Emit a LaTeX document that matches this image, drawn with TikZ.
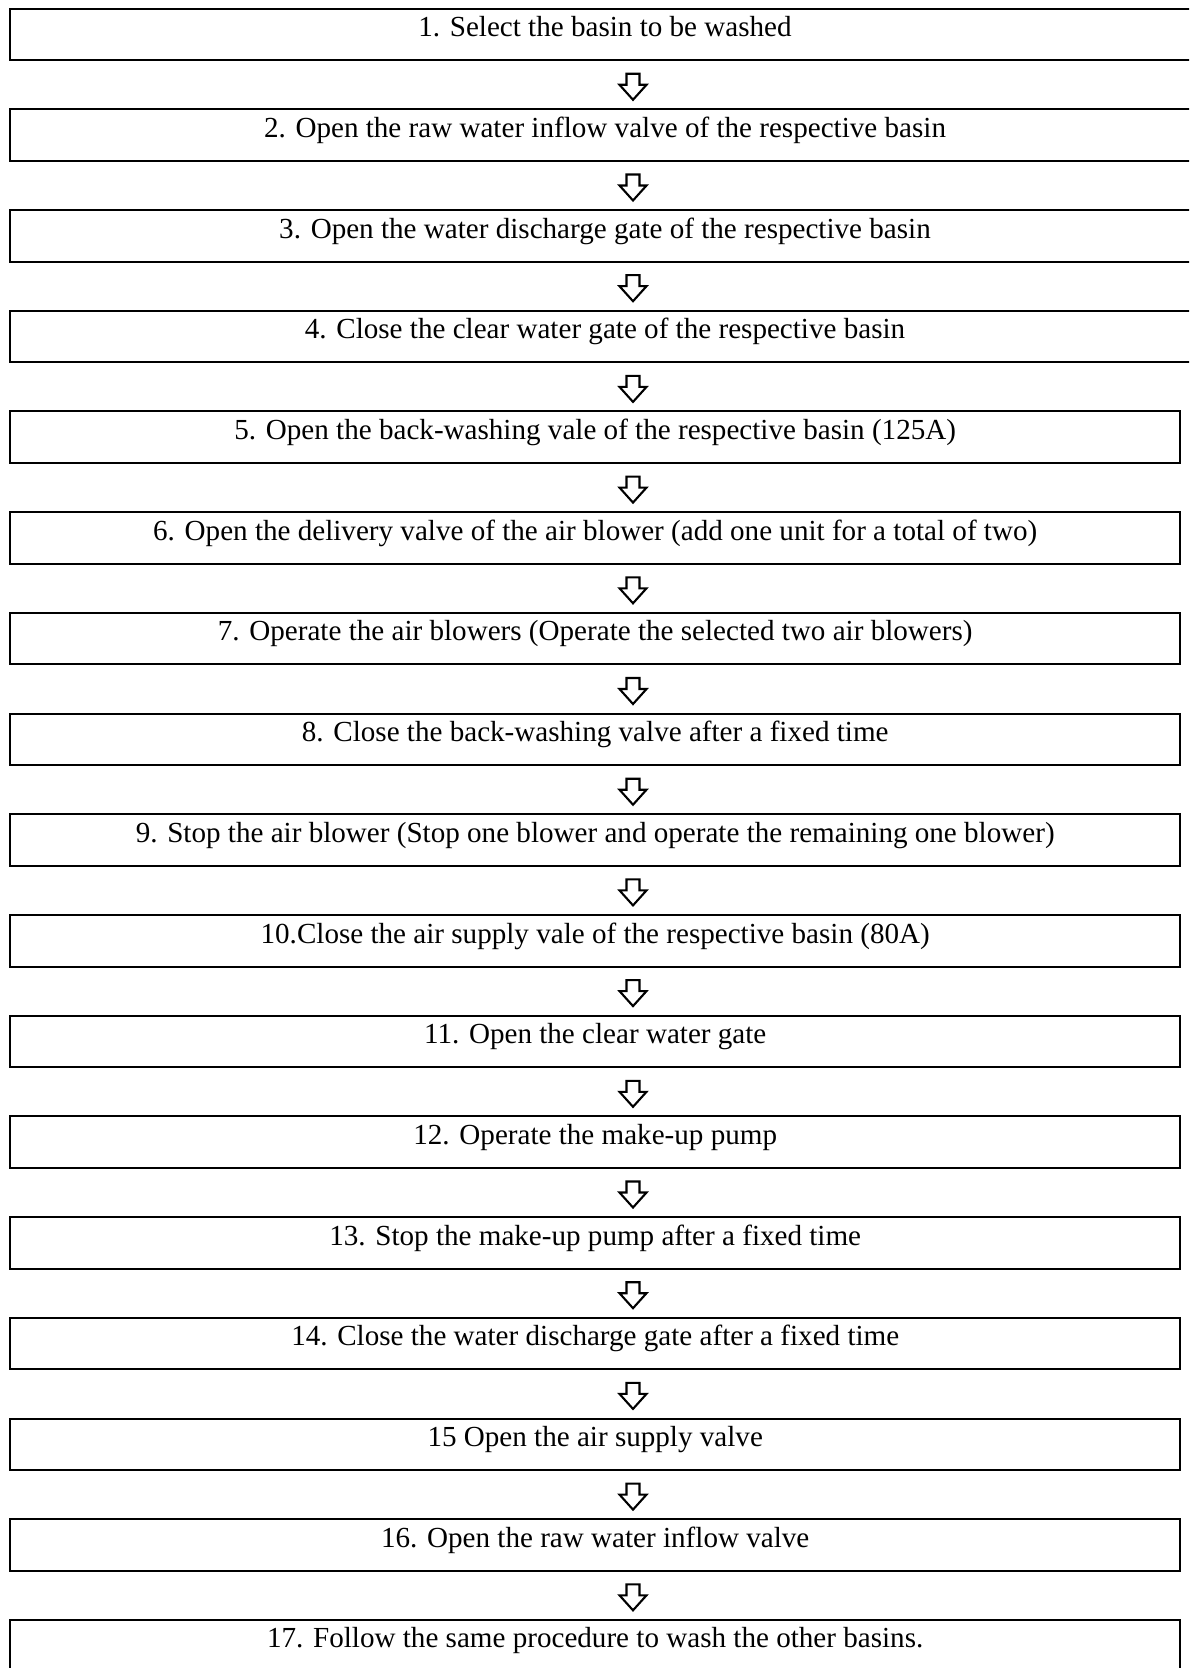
\documentclass[tikz,border=0pt]{standalone}
\usepackage{fontspec}
\setmainfont{Liberation Serif}
\usetikzlibrary{calc}
\begin{document}
\begin{tikzpicture}[x=0.5pt,y=-0.5pt,
  stepbox/.style={draw, line width=1pt, rectangle, anchor=north,
    minimum height=25.75pt, inner sep=0pt,
    text height=8pt, text depth=5.75pt,
    font=\fontsize{14.55pt}{17pt}\selectfont},
  widebox/.style={stepbox, minimum width=595pt},
  normbox/.style={stepbox, minimum width=585.25pt},
  flowarrow/.style={draw, line width=1.05pt, miter limit=10, fill=white}]
\useasboundingbox (0,0) rectangle (1189,1668);
\clip (0,0) rectangle (1189,1668);
% first four steps run past the right margin
\node[widebox] (s1)  at (605,   7.7) {1. Select the basin to be washed};
\node[widebox] (s2)  at (605, 108.4) {2. Open the raw water inflow valve of the respective basin};
\node[widebox] (s3)  at (605, 209.1) {3. Open the water discharge gate of the respective basin};
\node[widebox] (s4)  at (605, 309.8) {4. Close the clear water gate of the respective basin};
\node[normbox] (s5)  at (595.2, 410.5) {5. Open the back-washing vale of the respective basin (125A)};
\node[normbox] (s6)  at (595.2, 511.2) {6. Open the delivery valve of the air blower (add one unit for a total of two)};
\node[normbox] (s7)  at (595.2, 611.9) {7. Operate the air blowers (Operate the selected two air blowers)};
\node[normbox] (s8)  at (595.2, 712.6) {8. Close the back-washing valve after a fixed time};
\node[normbox] (s9)  at (595.2, 813.3) {9. Stop the air blower (Stop one blower and operate the remaining one blower)};
\node[normbox] (s10) at (595.2, 914.0) {10.Close the air supply vale of the respective basin (80A)};
\node[normbox] (s11) at (595.2,1014.7) {11. Open the clear water gate};
\node[normbox] (s12) at (595.2,1115.4) {12. Operate the make-up pump};
\node[normbox] (s13) at (595.2,1216.1) {13. Stop the make-up pump after a fixed time};
\node[normbox] (s14) at (595.2,1316.8) {14. Close the water discharge gate after a fixed time};
\node[normbox] (s15) at (595.2,1417.5) {15 Open the air supply valve};
\node[normbox] (s16) at (595.2,1518.2) {16. Open the raw water inflow valve};
\node[normbox] (s17) at (595.2,1618.9) {17. Follow the same procedure to wash the other basins.};
% column of the block arrows
\coordinate (ax) at (633,0);
\foreach \i [evaluate=\i as \j using int(\i+1)] in {1,...,16}{
  \coordinate (mid) at ($(s\i.south)!0.5!(s\j.north)$);
  \coordinate (m\i) at (ax |- mid);
  \draw[flowarrow, shift={(m\i)}]
    (-6.5,-11) -- (6.5,-11) -- (6.5,0) -- (13.5,0) -- (0,15)
    -- (-13.5,0) -- (-6.5,0) -- cycle;
}
\end{tikzpicture}
\end{document}
